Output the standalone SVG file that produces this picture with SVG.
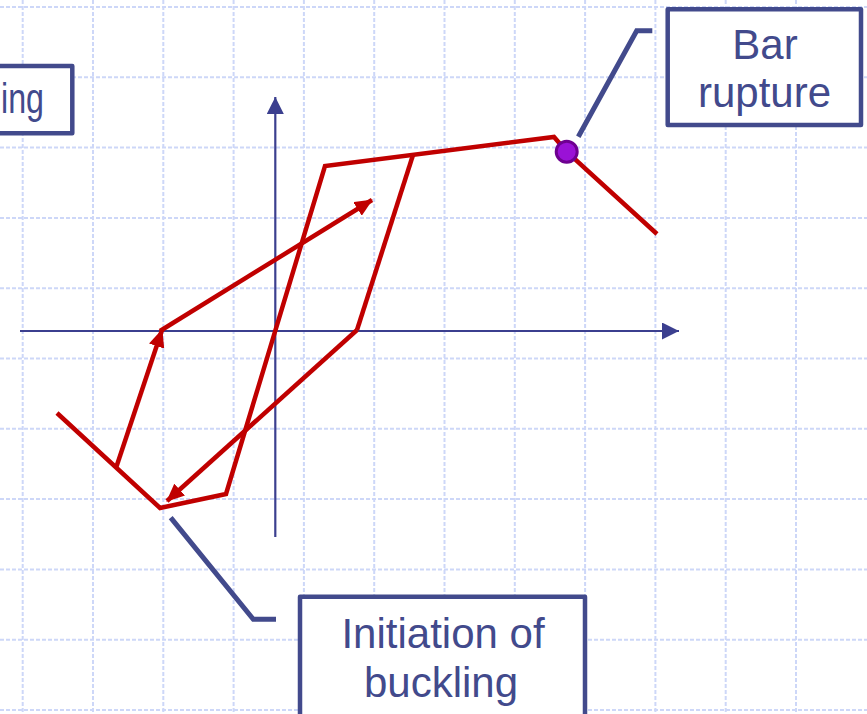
<svg xmlns="http://www.w3.org/2000/svg" width="867" height="714" viewBox="0 0 867 714">
<style>
.grid line{stroke:#cdd7f8;stroke-width:2;stroke-dasharray:4 2}
.axis{stroke:#3b3f8f;stroke-width:2.2;fill:none}
.red{stroke:#c00000;stroke-width:4.5;fill:none;stroke-linejoin:miter}
.box{fill:#fff;stroke:#424a8c;stroke-width:4.5;stroke-linejoin:round}
.lead{fill:none;stroke:#424a8c;stroke-width:5}
.lbl{font-family:"Liberation Sans",Arial,sans-serif;font-size:42px;fill:#424a8c;text-anchor:middle}
</style>
<defs>
<marker id="ah" viewBox="0 0 18 16" refX="17" refY="8" markerWidth="18" markerHeight="16" markerUnits="userSpaceOnUse" orient="auto"><path d="M0,0 L18,8 L0,16 z" fill="#c00000"/></marker>
<marker id="ax" viewBox="0 0 17 17" refX="17" refY="8.5" markerWidth="17" markerHeight="17" markerUnits="userSpaceOnUse" orient="auto"><path d="M0,0 L17,8.5 L0,17 z" fill="#3b3f8f"/></marker>
</defs>
<rect width="867" height="714" fill="#fff"/>
<g class="grid">
<line x1="22.7" y1="0" x2="22.7" y2="714"/><line x1="93" y1="0" x2="93" y2="714"/><line x1="163.3" y1="0" x2="163.3" y2="714"/><line x1="233.6" y1="0" x2="233.6" y2="714"/><line x1="303.9" y1="0" x2="303.9" y2="714"/><line x1="374.2" y1="0" x2="374.2" y2="714"/><line x1="444.5" y1="0" x2="444.5" y2="714"/><line x1="514.8" y1="0" x2="514.8" y2="714"/><line x1="585.1" y1="0" x2="585.1" y2="714"/><line x1="655.4" y1="0" x2="655.4" y2="714"/><line x1="725.7" y1="0" x2="725.7" y2="714"/><line x1="796" y1="0" x2="796" y2="714"/>
<line x1="0" y1="7" x2="867" y2="7"/><line x1="0" y1="77.3" x2="867" y2="77.3"/><line x1="0" y1="147.6" x2="867" y2="147.6"/><line x1="0" y1="217.9" x2="867" y2="217.9"/><line x1="0" y1="288.2" x2="867" y2="288.2"/><line x1="0" y1="358.5" x2="867" y2="358.5"/><line x1="0" y1="428.8" x2="867" y2="428.8"/><line x1="0" y1="499.1" x2="867" y2="499.1"/><line x1="0" y1="569.4" x2="867" y2="569.4"/><line x1="0" y1="639.7" x2="867" y2="639.7"/><line x1="0" y1="710" x2="867" y2="710"/>
</g>
<g id="axes">
<line class="axis" x1="20" y1="331" x2="679" y2="331" marker-end="url(#ax)"/>
<line class="axis" x1="275.3" y1="537" x2="275.3" y2="97" marker-end="url(#ax)"/>
</g>
<g id="curve">
<polyline class="red" points="57,413 160,508 226,494 325,166 554,137 567,152 657,234"/>
<line class="red" x1="413" y1="155" x2="357" y2="330"/>
<line class="red" x1="357" y1="330" x2="167" y2="501" marker-end="url(#ah)"/>
<line class="red" x1="116" y1="468" x2="162" y2="330" marker-end="url(#ah)"/>
<line class="red" x1="160" y1="331" x2="372" y2="200" marker-end="url(#ah)"/>
<circle id="rupture-point" cx="566.7" cy="151.7" r="10.5" fill="#9a12d6" stroke="#6e0090" stroke-width="3"/>
</g>
<g id="connectors">
<polyline class="lead" points="578.3,136.7 636.7,30.7 652.3,30.7"/>
<polyline class="lead" points="170.7,517.7 253.3,619.3 276,619.3"/>
</g>
<g id="node-left">
<rect class="box" x="-100" y="66" width="172.3" height="67.3"/>
<text class="lbl" x="1" y="113" style="text-anchor:start" textLength="43" lengthAdjust="spacingAndGlyphs">ing</text>
</g>
<g id="node-bar-rupture">
<rect class="box" x="667.7" y="9.3" width="193.3" height="115.7"/>
<text class="lbl" x="765" y="59.3">Bar</text>
<text class="lbl" x="764.5" y="107">rupture</text>
</g>
<g id="node-initiation">
<rect class="box" x="300" y="596.7" width="285" height="140"/>
<text class="lbl" x="443" y="648.3">Initiation of</text>
<text class="lbl" x="441" y="697">buckling</text>
</g>
</svg>
